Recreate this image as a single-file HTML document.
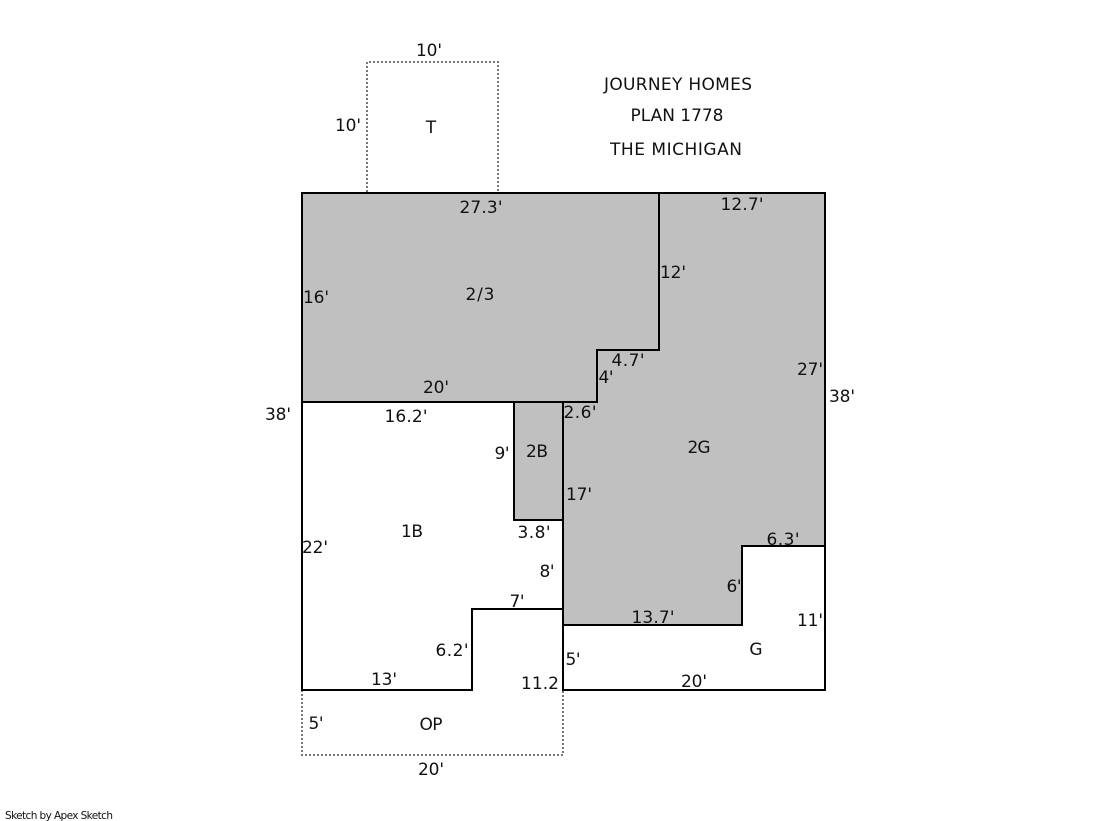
<!DOCTYPE html>
<html>
<head>
<meta charset="utf-8">
<style>
html,body{margin:0;padding:0;background:#fff;}
svg{display:block;}
text{font-family:"DejaVu Sans","Liberation Sans",sans-serif;font-size:17px;fill:#111;text-anchor:middle;}
</style>
</head>
<body>
<svg width="1119" height="821" viewBox="0 0 1119 821" xmlns="http://www.w3.org/2000/svg">
<rect width="1119" height="821" fill="#fff"/>
<g fill="none" stroke="#777" stroke-width="2" stroke-dasharray="2 2">
<polyline points="367,192 367,62 498,62 498,192"/>
<polyline points="302,690 302,755 563,755 563,690"/>
</g>
<g stroke="#000" stroke-width="2" fill="#c0c0c0" stroke-linejoin="miter">
<polygon points="302,193 659,193 659,350 597,350 597,402 302,402"/>
<polygon points="659,193 825,193 825,546 742,546 742,625 563,625 563,402 597,402 597,350 659,350"/>
<polygon points="514,402 563,402 563,520 514,520"/>
<g fill="none">
<polyline points="302,402 302,690 472,690 472,609 563,609"/>
<polyline points="563,609 563,690 825,690 825,546"/>
<line x1="514" y1="520" x2="563" y2="520"/>
</g>
</g>
<text x="429" y="56" textLength="26">10'</text>
<text x="348" y="131" textLength="26">10'</text>
<text x="431" y="133">T</text>
<text x="678" y="90" textLength="148">JOURNEY HOMES</text>
<text x="677" y="121" textLength="93">PLAN 1778</text>
<text x="676" y="155" textLength="132">THE MICHIGAN</text>
<text x="481" y="213" textLength="43">27.3'</text>
<text x="742" y="210" textLength="43">12.7'</text>
<text x="673" y="278" textLength="26">12'</text>
<text x="316" y="303" textLength="26">16'</text>
<text x="480" y="300" textLength="29">2/3</text>
<text x="628" y="366" textLength="33">4.7'</text>
<text x="606" y="383" textLength="15">4'</text>
<text x="810" y="375" textLength="26">27'</text>
<text x="842" y="402" textLength="26">38'</text>
<text x="436" y="393" textLength="26">20'</text>
<text x="278" y="420" textLength="26">38'</text>
<text x="406" y="422" textLength="43">16.2'</text>
<text x="580" y="418" textLength="33">2.6'</text>
<text x="502" y="459" textLength="15">9'</text>
<text x="537" y="457" textLength="22">2B</text>
<text x="699" y="453" textLength="23">2G</text>
<text x="579" y="500" textLength="26">17'</text>
<text x="412" y="537" textLength="22">1B</text>
<text x="534" y="538" textLength="33">3.8'</text>
<text x="783" y="545" textLength="33">6.3'</text>
<text x="315" y="553" textLength="26">22'</text>
<text x="547" y="577" textLength="15">8'</text>
<text x="734" y="592" textLength="15">6'</text>
<text x="517" y="607" textLength="15">7'</text>
<text x="653" y="623" textLength="43">13.7'</text>
<text x="810" y="626" textLength="26">11'</text>
<text x="452" y="656" textLength="33">6.2'</text>
<text x="756" y="655">G</text>
<text x="573" y="665" textLength="15">5'</text>
<text x="384" y="685" textLength="26">13'</text>
<text x="540" y="689" textLength="38">11.2</text>
<text x="694" y="687" textLength="26">20'</text>
<text x="316" y="729" textLength="15">5'</text>
<text x="431" y="730" textLength="23">OP</text>
<text x="431" y="775" textLength="26">20'</text>
<text x="59" y="819" textLength="108" style="font-size:10.5px">Sketch by Apex Sketch</text>
</svg>
</body>
</html>
